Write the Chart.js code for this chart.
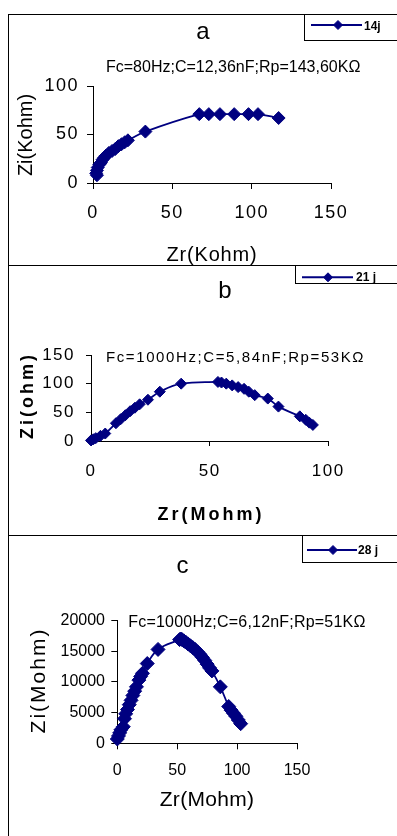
<!DOCTYPE html>
<html>
<head>
<meta charset="utf-8">
<script src="https://cdn.jsdelivr.net/npm/chart.js@4.4.0/dist/chart.umd.min.js"></script>
<style>
  html, body { margin: 0; padding: 0; background: #fff; }
  #page { position: relative; width: 397px; height: 836px; overflow: hidden; }
  #page canvas { position: absolute; left: 0; }
  .ln { position: absolute; background: #000; }
</style>
</head>
<body>
<div id="page">
  <canvas id="chartA" width="397" height="265" style="top:0px"></canvas>
  <canvas id="chartB" width="397" height="270" style="top:265px"></canvas>
  <canvas id="chartC" width="397" height="301" style="top:535px"></canvas>
  <div class="ln" style="left:8px;top:14px;width:1px;height:822px"></div>
  <div class="ln" style="left:8px;top:14px;width:389px;height:1px"></div>
  <div class="ln" style="left:8px;top:265px;width:389px;height:1px"></div>
  <div class="ln" style="left:8px;top:535px;width:389px;height:1px"></div>
</div>
<script>
// panel a - 14 days
const zrA = [2.5, 2, 2.5, 3, 4, 5, 6, 7, 8, 10, 12, 14, 16, 18, 20, 22, 33, 67, 73, 80, 89, 98, 104, 117];
const ziA = [8, 10, 13, 16, 19, 21, 24, 26, 28, 31, 33, 35, 38, 40, 42, 44, 53, 71, 71, 71, 71, 71, 71, 67];

// panel b - 21 days
const zrB = [0, 1, 2, 4, 6, 10.5, 12.5, 14.5, 16.5, 18.5, 20.5, 24, 29, 38, 53.5, 55, 57, 59.5, 62, 64.5, 66.5, 69, 74.5, 79, 88, 90.5, 92, 93.5];
const ziB = [1, 3, 5, 9, 13, 31, 38, 45, 52, 58, 64, 72, 86, 100, 103, 102, 100, 97, 94, 91, 86, 80, 74, 60, 43, 37, 32, 28];

// panel c - 28 days
const zrC = [0, 1, 2, 3, 5, 6, 7, 8.5, 10, 11.5, 13, 14.5, 16, 18, 19.5, 21, 25, 34, 52, 53, 54, 55.5, 57, 59, 61, 63, 65, 67, 69, 71, 73, 75, 77, 79, 86, 93, 95, 97, 99, 101, 103];
const ziC = [700, 1200, 1700, 2200, 2700, 4000, 4800, 5500, 6300, 7000, 7800, 8500, 9200, 10300, 10900, 11400, 13000, 15300, 16900, 17000, 16900, 16700, 16500, 16200, 15900, 15600, 15300, 14900, 14500, 14000, 13500, 12900, 12300, 11800, 9200, 6000, 5400, 4900, 4400, 3800, 3200];

const xTicksAC = [0, 50, 100, 150];
const xTicksB = [0, 50, 100];

const NAVY = '#000080';
const FONT = '"Liberation Sans", Arial, sans-serif';

Chart.defaults.font.family = FONT;
Chart.defaults.color = '#000';

// titles, axis names and the little legend box in each panel
const panelDecor = {
  id: 'panelDecor',
  beforeDraw(chart, args, opts) {
    chart.ctx.letterSpacing = (opts.spacing || 0) + 'px';
  },
  afterDraw(chart, args, opts) {
    const ctx = chart.ctx;
    opts.texts.forEach(t => {
      ctx.save();
      ctx.font = t.font + ' ' + FONT;
      ctx.letterSpacing = (t.spacing || 0) + 'px';
      ctx.fillStyle = '#000';
      ctx.textAlign = t.align || 'center';
      ctx.textBaseline = t.rotate ? 'middle' : 'alphabetic';
      ctx.translate(t.x, t.y);
      if (t.rotate) ctx.rotate(-Math.PI / 2);
      ctx.fillText(t.text, 0, 0);
      ctx.restore();
    });
    const lg = opts.legend;
    ctx.save();
    ctx.letterSpacing = '0px';
    ctx.strokeStyle = '#000';
    ctx.lineWidth = 1;
    ctx.strokeRect(lg.box[0] + 0.5, lg.box[1] + 0.5, lg.box[2], lg.box[3]);
    ctx.strokeStyle = NAVY;
    ctx.fillStyle = NAVY;
    ctx.lineWidth = 2;
    ctx.beginPath();
    ctx.moveTo(lg.line[0], lg.line[2]);
    ctx.lineTo(lg.line[1], lg.line[2]);
    ctx.stroke();
    ctx.lineWidth = 1;
    Chart.helpers.drawPoint(ctx, {pointStyle: 'rectRot', radius: 4.5, borderWidth: 1, rotation: 0}, lg.mark, lg.line[2]);
    ctx.fillStyle = '#000';
    ctx.font = 'bold 12px ' + FONT;
    ctx.textAlign = 'left';
    ctx.textBaseline = 'alphabetic';
    ctx.fillText(chart.data.datasets[0].label, lg.text[0], lg.text[1]);
    ctx.restore();
  }
};

function makeChart(id, c) {
  const W = 397, H = c.height, padL = 8, padB = 0;
  const a = c.area; // left, top, right, bottom of the plot
  return new Chart(document.getElementById(id), {
    type: 'scatter',
    data: {
      datasets: [{
        label: c.label,
        data: c.xs.map((x, i) => ({x: x, y: c.ys[i]})),
        showLine: true,
        tension: 0.4,
        borderColor: NAVY,
        backgroundColor: NAVY,
        borderWidth: 1.8,
        pointStyle: 'rectRot',
        pointRadius: c.radius,
        pointBorderWidth: 1,
        pointBorderColor: NAVY,
        pointBackgroundColor: NAVY,
        clip: false
      }]
    },
    options: {
      responsive: false,
      animation: false,
      events: [],
      layout: { padding: { left: padL, top: a[1], right: W - a[2], bottom: padB } },
      plugins: {
        legend: { display: false },
        tooltip: { enabled: false },
        panelDecor: { spacing: c.tickSpacing, texts: c.texts, legend: c.legend }
      },
      scales: {
        x: {
          type: 'linear',
          min: 0,
          max: c.xTicks[c.xTicks.length - 1],
          afterFit: s => { s.height = H - padB - a[3]; },
          afterBuildTicks: s => { s.ticks = c.xTicks.map(v => ({value: v})); },
          ticks: { padding: c.xPad, font: { size: c.tickSize }, color: '#000', callback: v => String(v) },
          grid: { drawOnChartArea: false, drawTicks: true, tickLength: c.tl, color: '#000' },
          border: { color: '#000' }
        },
        y: {
          type: 'linear',
          min: 0,
          max: c.yTicks[c.yTicks.length - 1],
          afterFit: s => { s.width = a[0] - padL; },
          afterBuildTicks: s => { s.ticks = c.yTicks.map(v => ({value: v})); },
          ticks: { padding: c.yPad, font: { size: c.tickSize }, color: '#000', callback: v => String(v) },
          grid: { drawOnChartArea: false, drawTicks: true, tickLength: c.tl, color: '#000' },
          border: { color: '#000' }
        }
      }
    },
    plugins: [panelDecor]
  });
}

makeChart('chartA', {
  label: '14j', xs: zrA, ys: ziA, height: 265,
  area: [93, 86, 331, 183], xTicks: xTicksAC, yTicks: [0, 50, 100],
  radius: 6.5, tickSize: 18, tickSpacing: 1.5, tl: 6, xPad: 13, yPad: 8,
  texts: [
    {text: 'a', x: 203, y: 38.5, font: '24px'},
    {text: 'Fc=80Hz;C=12,36nF;Rp=143,60KΩ', x: 106, y: 71.5, font: '16px', align: 'left'},
    {text: 'Zi(Kohm)', x: 26.5, y: 135, font: '20px', rotate: true},
    {text: 'Zr(Kohm)', x: 212, y: 260.5, font: '20px', spacing: 0.8}
  ],
  legend: {box: [304, 14, 100, 26], line: [311, 362, 25], mark: 338, text: [364, 29.5]}
});

makeChart('chartB', {
  label: '21 j', xs: zrB, ys: ziB, height: 270,
  area: [91, 90, 328.3, 176], xTicks: xTicksB, yTicks: [0, 50, 100, 150],
  radius: 5.5, tickSize: 17, tickSpacing: 1.5, tl: 5, xPad: 14.8, yPad: 11,
  texts: [
    {text: 'b', x: 225, y: 33.3, font: '24px'},
    {text: 'Fc=1000Hz;C=5,84nF;Rp=53KΩ', x: 106, y: 96.7, font: '15px', align: 'left', spacing: 1.6},
    {text: 'Zi(ohm)', x: 28.3, y: 130.5, font: 'bold 18px', rotate: true, spacing: 3},
    {text: 'Zr(Mohm)', x: 211, y: 255, font: 'bold 18px', spacing: 3}
  ],
  legend: {box: [295, 0, 105, 18], line: [302, 353, 12.3], mark: 328, text: [356, 15.7]}
});

makeChart('chartC', {
  label: '28 j', xs: zrC, ys: ziC, height: 301,
  area: [117.3, 85.6, 297, 208.3], xTicks: xTicksAC, yTicks: [0, 5000, 10000, 15000, 20000],
  radius: 7, tickSize: 16, tickSpacing: 0, tl: 6, xPad: 11.8, yPad: 6.3,
  texts: [
    {text: 'c', x: 182.5, y: 37.5, font: '24px'},
    {text: 'Fc=1000Hz;C=6,12nF;Rp=51KΩ', x: 128.3, y: 91.7, font: '16px', align: 'left', spacing: 0.2},
    {text: 'Zi(Mohm)', x: 39.5, y: 145.5, font: '21px', rotate: true, spacing: 2},
    {text: 'Zr(Mohm)', x: 207, y: 271, font: '21px', spacing: 0.3}
  ],
  legend: {box: [302, 0, 100, 27], line: [307, 357, 15], mark: 333, text: [358, 19.3]}
});
</script>
</body>
</html>
